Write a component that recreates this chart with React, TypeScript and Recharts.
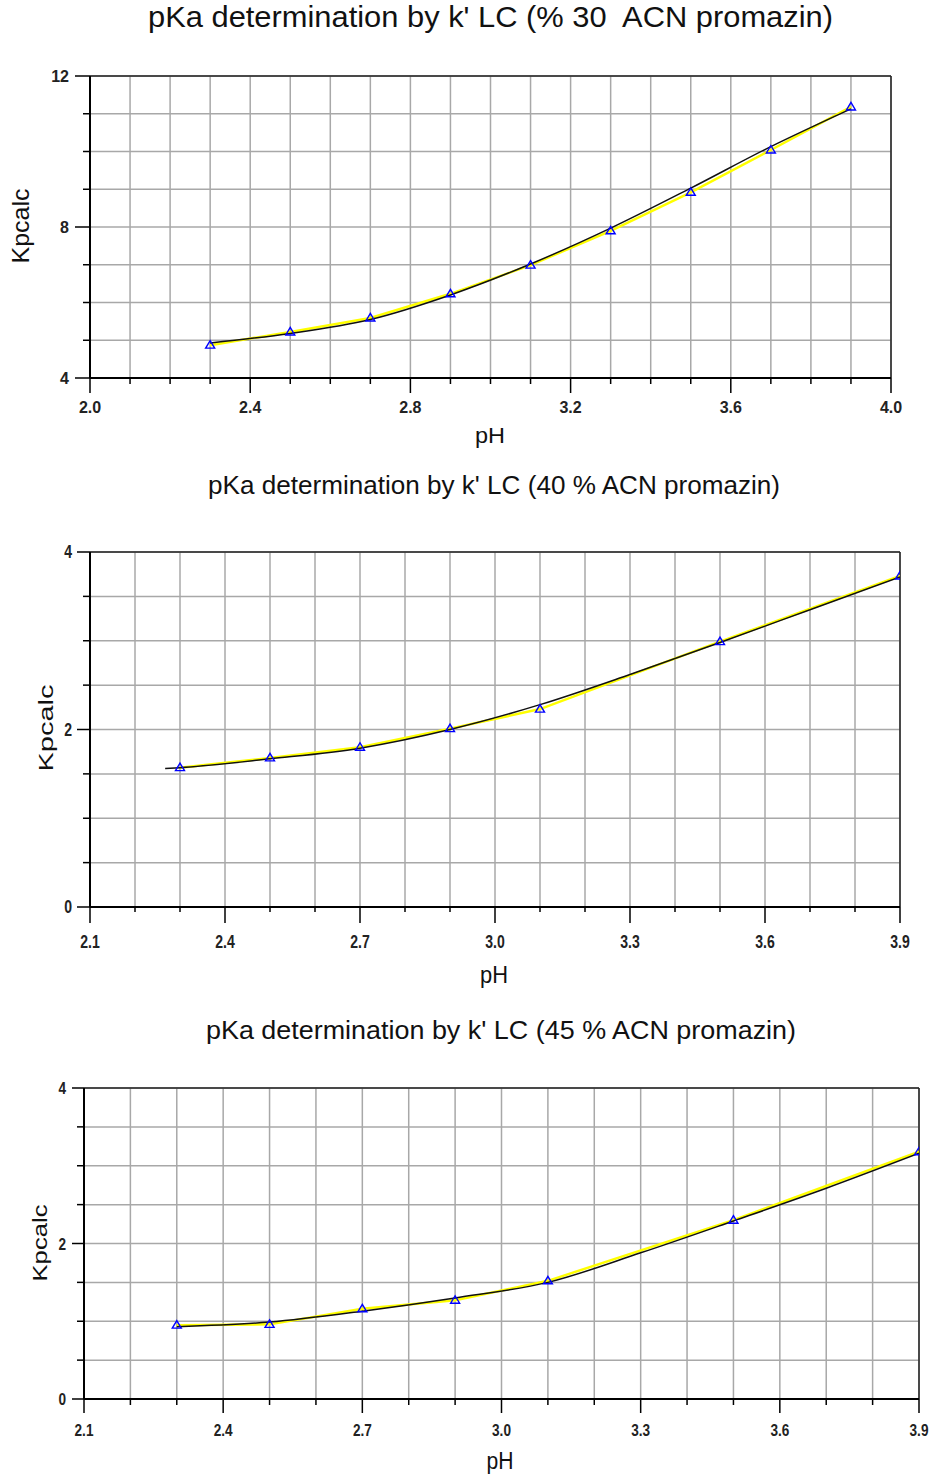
import React from 'react';
import { ComposedChart, Line, XAxis, YAxis, CartesianGrid, ReferenceLine } from 'recharts';

// ---------- Chart 1 : 30 % ACN ----------
const pH1 = [2.3, 2.5, 2.7, 2.9, 3.1, 3.3, 3.5, 3.7, 3.9];
const kp1 = [4.87, 5.22, 5.59, 6.23, 6.99, 7.9, 8.92, 10.04, 11.18];
const fitX1 = [2.3, 2.5, 2.7, 2.9, 3.1, 3.3, 3.5, 3.7, 3.9];
const fitY1 = [4.93, 5.18, 5.55, 6.2, 7.02, 7.97, 9.03, 10.13, 11.13];
const xTicks1 = [2.0, 2.1, 2.2, 2.3, 2.4, 2.5, 2.6, 2.7, 2.8, 2.9, 3.0, 3.1, 3.2, 3.3, 3.4, 3.5, 3.6, 3.7, 3.8, 3.9, 4.0];
const xLabels1 = [2.0, 2.4, 2.8, 3.2, 3.6, 4.0];
const yTicks1 = [4, 5, 6, 7, 8, 9, 10, 11, 12];
const yLabels1 = [4, 8, 12];

// ---------- Chart 2 : 40 % ACN ----------
const pH2 = [2.3, 2.5, 2.7, 2.9, 3.1, 3.5, 3.9];
const kp2 = [1.57, 1.68, 1.8, 2.01, 2.23, 2.99, 3.73];
const fitX2 = [2.267, 2.3, 2.5, 2.7, 2.9, 3.1, 3.3, 3.5, 3.7, 3.9];
const fitY2 = [1.56, 1.57, 1.67, 1.79, 2.0, 2.28, 2.62, 2.98, 3.35, 3.72];
const xTicks23 = [2.1, 2.2, 2.3, 2.4, 2.5, 2.6, 2.7, 2.8, 2.9, 3.0, 3.1, 3.2, 3.3, 3.4, 3.5, 3.6, 3.7, 3.8, 3.9];
const xLabels23 = [2.1, 2.4, 2.7, 3.0, 3.3, 3.6, 3.9];
const yTicks23 = [0, 0.5, 1, 1.5, 2, 2.5, 3, 3.5, 4];
const yLabels23 = [0, 2, 4];

// ---------- Chart 3 : 45 % ACN ----------
const pH3 = [2.3, 2.5, 2.7, 2.9, 3.1, 3.5, 3.9];
const kp3 = [0.95, 0.96, 1.16, 1.27, 1.52, 2.3, 3.18];
const fitX3 = [2.3, 2.5, 2.7, 2.9, 3.1, 3.3, 3.5, 3.7, 3.9];
const fitY3 = [0.93, 0.99, 1.13, 1.3, 1.5, 1.88, 2.29, 2.71, 3.16];

const titles = [
  "pKa determination by k' LC (% 30  ACN promazin)",
  "pKa determination by k' LC (40 % ACN promazin)",
  "pKa determination by k' LC (45 % ACN promazin)",
];

const FONT = "'Liberation Sans', Arial, Helvetica, sans-serif";

const toPts = (xs: number[], ys: number[]) => xs.map((x, i) => ({ x, y: ys[i] }));
const isIn = (arr: number[], v: number) => arr.some((a) => Math.abs(a - v) < 1e-6);

const Tri = (props: any) => {
  const { cx, cy } = props;
  if (cx == null || cy == null) return null;
  return (
    <polygon
      points={`${cx},${cy - 4.5} ${cx - 4.5},${cy + 3} ${cx + 4.5},${cy + 3}`}
      fill="none"
      stroke="#0000ff"
      strokeWidth={1.4}
    />
  );
};

type Cfg = {
  top: number;
  height: number;
  margin: { top: number; right: number; left: number; bottom: number };
  xDomain: [number, number];
  yDomain: [number, number];
  xTicks: number[];
  xLabels: number[];
  yTicks: number[];
  yLabels: number[];
  data: { x: number; y: number }[];
  fit: { x: number; y: number }[];
  tickFont: number;
  tickScaleX: number;
  xMajor: number;
  xMinor: number;
  xLabelDy: number;
  yMajor: number;
  yMinor: number;
  yLabelDx: number;
};

const Panel = ({ cfg }: { cfg: Cfg }) => {
  const XTick = (p: any) => {
    const { x, y, payload } = p;
    const major = isIn(cfg.xLabels, payload.value);
    return (
      <g>
        <line x1={x} x2={x} y1={y} y2={y + (major ? cfg.xMajor : cfg.xMinor)} stroke="#000" strokeWidth={1.5} />
        {major && (
          <text
            transform={`translate(${x},${y + cfg.xLabelDy}) scale(${cfg.tickScaleX},1)`}
            textAnchor="middle"
            fontSize={cfg.tickFont}
            fontWeight="bold"
            fontFamily={FONT}
            fill="#222"
          >
            {Number(payload.value).toFixed(1)}
          </text>
        )}
      </g>
    );
  };
  const YTick = (p: any) => {
    const { x, y, payload } = p;
    const major = isIn(cfg.yLabels, payload.value);
    return (
      <g>
        <line x1={x - (major ? cfg.yMajor : cfg.yMinor)} x2={x} y1={y} y2={y} stroke="#000" strokeWidth={1.5} />
        {major && (
          <text
            transform={`translate(${x - cfg.yLabelDx},${y + cfg.tickFont * 0.36}) scale(${cfg.tickScaleX},1)`}
            textAnchor="end"
            fontSize={cfg.tickFont}
            fontWeight="bold"
            fontFamily={FONT}
            fill="#222"
          >
            {String(payload.value)}
          </text>
        )}
      </g>
    );
  };
  return (
    <div style={{ position: 'absolute', left: 0, top: cfg.top }}>
      <ComposedChart width={936} height={cfg.height} margin={cfg.margin}>
        <CartesianGrid stroke="#a8a8a8" strokeWidth={1.5} />
        <XAxis
          type="number"
          dataKey="x"
          domain={cfg.xDomain}
          ticks={cfg.xTicks}
          interval={0}
          tickSize={0}
          tickMargin={0}
          tickLine={false}
          height={45}
          axisLine={{ stroke: '#000', strokeWidth: 2 }}
          tick={XTick}
          allowDataOverflow
        />
        <YAxis
          type="number"
          dataKey="y"
          domain={cfg.yDomain}
          ticks={cfg.yTicks}
          interval={0}
          tickSize={0}
          tickMargin={0}
          tickLine={false}
          width={60}
          axisLine={{ stroke: '#000', strokeWidth: 2 }}
          tick={YTick}
          allowDataOverflow
        />
        <ReferenceLine y={cfg.yDomain[1]} stroke="#222" strokeWidth={1.5} />
        <ReferenceLine x={cfg.xDomain[1]} stroke="#222" strokeWidth={1.5} />
        <Line data={cfg.data} dataKey="y" type="linear" stroke="#ffff00" strokeWidth={2.5} dot={false} isAnimationActive={false} />
        <Line data={cfg.fit} dataKey="y" type="monotone" stroke="#111" strokeWidth={1.5} dot={false} isAnimationActive={false} />
        <Line data={cfg.data} dataKey="y" type="linear" stroke="none" dot={<Tri />} isAnimationActive={false} />
      </ComposedChart>
    </div>
  );
};

const cfg1: Cfg = {
  top: 40,
  height: 400,
  margin: { top: 36, right: 45, left: 30, bottom: 17 },
  xDomain: [2.0, 4.0],
  yDomain: [4, 12],
  xTicks: xTicks1,
  xLabels: xLabels1,
  yTicks: yTicks1,
  yLabels: yLabels1,
  data: toPts(pH1, kp1),
  fit: toPts(fitX1, fitY1),
  tickFont: 16,
  tickScaleX: 1,
  xMajor: 15,
  xMinor: 6,
  xLabelDy: 35,
  yMajor: 15,
  yMinor: 7,
  yLabelDx: 21,
};

const cfg2: Cfg = {
  top: 520,
  height: 450,
  margin: { top: 32, right: 36, left: 30, bottom: 18 },
  xDomain: [2.1, 3.9],
  yDomain: [0, 4],
  xTicks: xTicks23,
  xLabels: xLabels23,
  yTicks: yTicks23,
  yLabels: yLabels23,
  data: toPts(pH2, kp2),
  fit: toPts(fitX2, fitY2),
  tickFont: 18,
  tickScaleX: 0.78,
  xMajor: 16,
  xMinor: 5,
  xLabelDy: 41,
  yMajor: 13,
  yMinor: 7,
  yLabelDx: 18,
};

const cfg3: Cfg = {
  top: 1060,
  height: 400,
  margin: { top: 28, right: 17, left: 24, bottom: 16 },
  xDomain: [2.1, 3.9],
  yDomain: [0, 4],
  xTicks: xTicks23,
  xLabels: xLabels23,
  yTicks: yTicks23,
  yLabels: yLabels23,
  data: toPts(pH3, kp3),
  fit: toPts(fitX3, fitY3),
  tickFont: 17,
  tickScaleX: 0.8,
  xMajor: 14,
  xMinor: 6,
  xLabelDy: 37,
  yMajor: 12,
  yMinor: 7,
  yLabelDx: 18,
};

const HText = ({ x, y, size, len, children }: any) => (
  <text
    x={x}
    y={y}
    fontSize={size}
    fontFamily={FONT}
    textAnchor="middle"
    textLength={len}
    lengthAdjust="spacingAndGlyphs"
    fill="#111"
    style={{ whiteSpace: 'pre' }}
  >
    {children}
  </text>
);

const VText = ({ x, y, size, len, children }: any) => (
  <text
    transform={`translate(${x},${y}) rotate(-90)`}
    fontSize={size}
    fontFamily={FONT}
    textAnchor="middle"
    textLength={len}
    lengthAdjust="spacingAndGlyphs"
    fill="#111"
  >
    {children}
  </text>
);

export default function App() {
  return (
    <div style={{ position: 'absolute', left: 0, top: 0, width: 936, height: 1477, background: '#fff', overflow: 'hidden' }}>
      <Panel cfg={cfg1} />
      <Panel cfg={cfg2} />
      <Panel cfg={cfg3} />
      <svg width={936} height={1477} style={{ position: 'absolute', left: 0, top: 0, pointerEvents: 'none' }}>
        <HText x={490.5} y={27} size={29} len={685}>{titles[0]}</HText>
        <HText x={494} y={494} size={26} len={572}>{titles[1]}</HText>
        <HText x={501} y={1039} size={26} len={590}>{titles[2]}</HText>
        <HText x={490} y={443} size={22} len={30}>pH</HText>
        <HText x={494} y={983} size={24} len={28}>pH</HText>
        <HText x={500} y={1469} size={23} len={27}>pH</HText>
        <VText x={29} y={226} size={24} len={75}>Kpcalc</VText>
        <VText x={53} y={728} size={20} len={87}>Kpcalc</VText>
        <VText x={47} y={1243} size={20} len={77}>Kpcalc</VText>
      </svg>
    </div>
  );
}
